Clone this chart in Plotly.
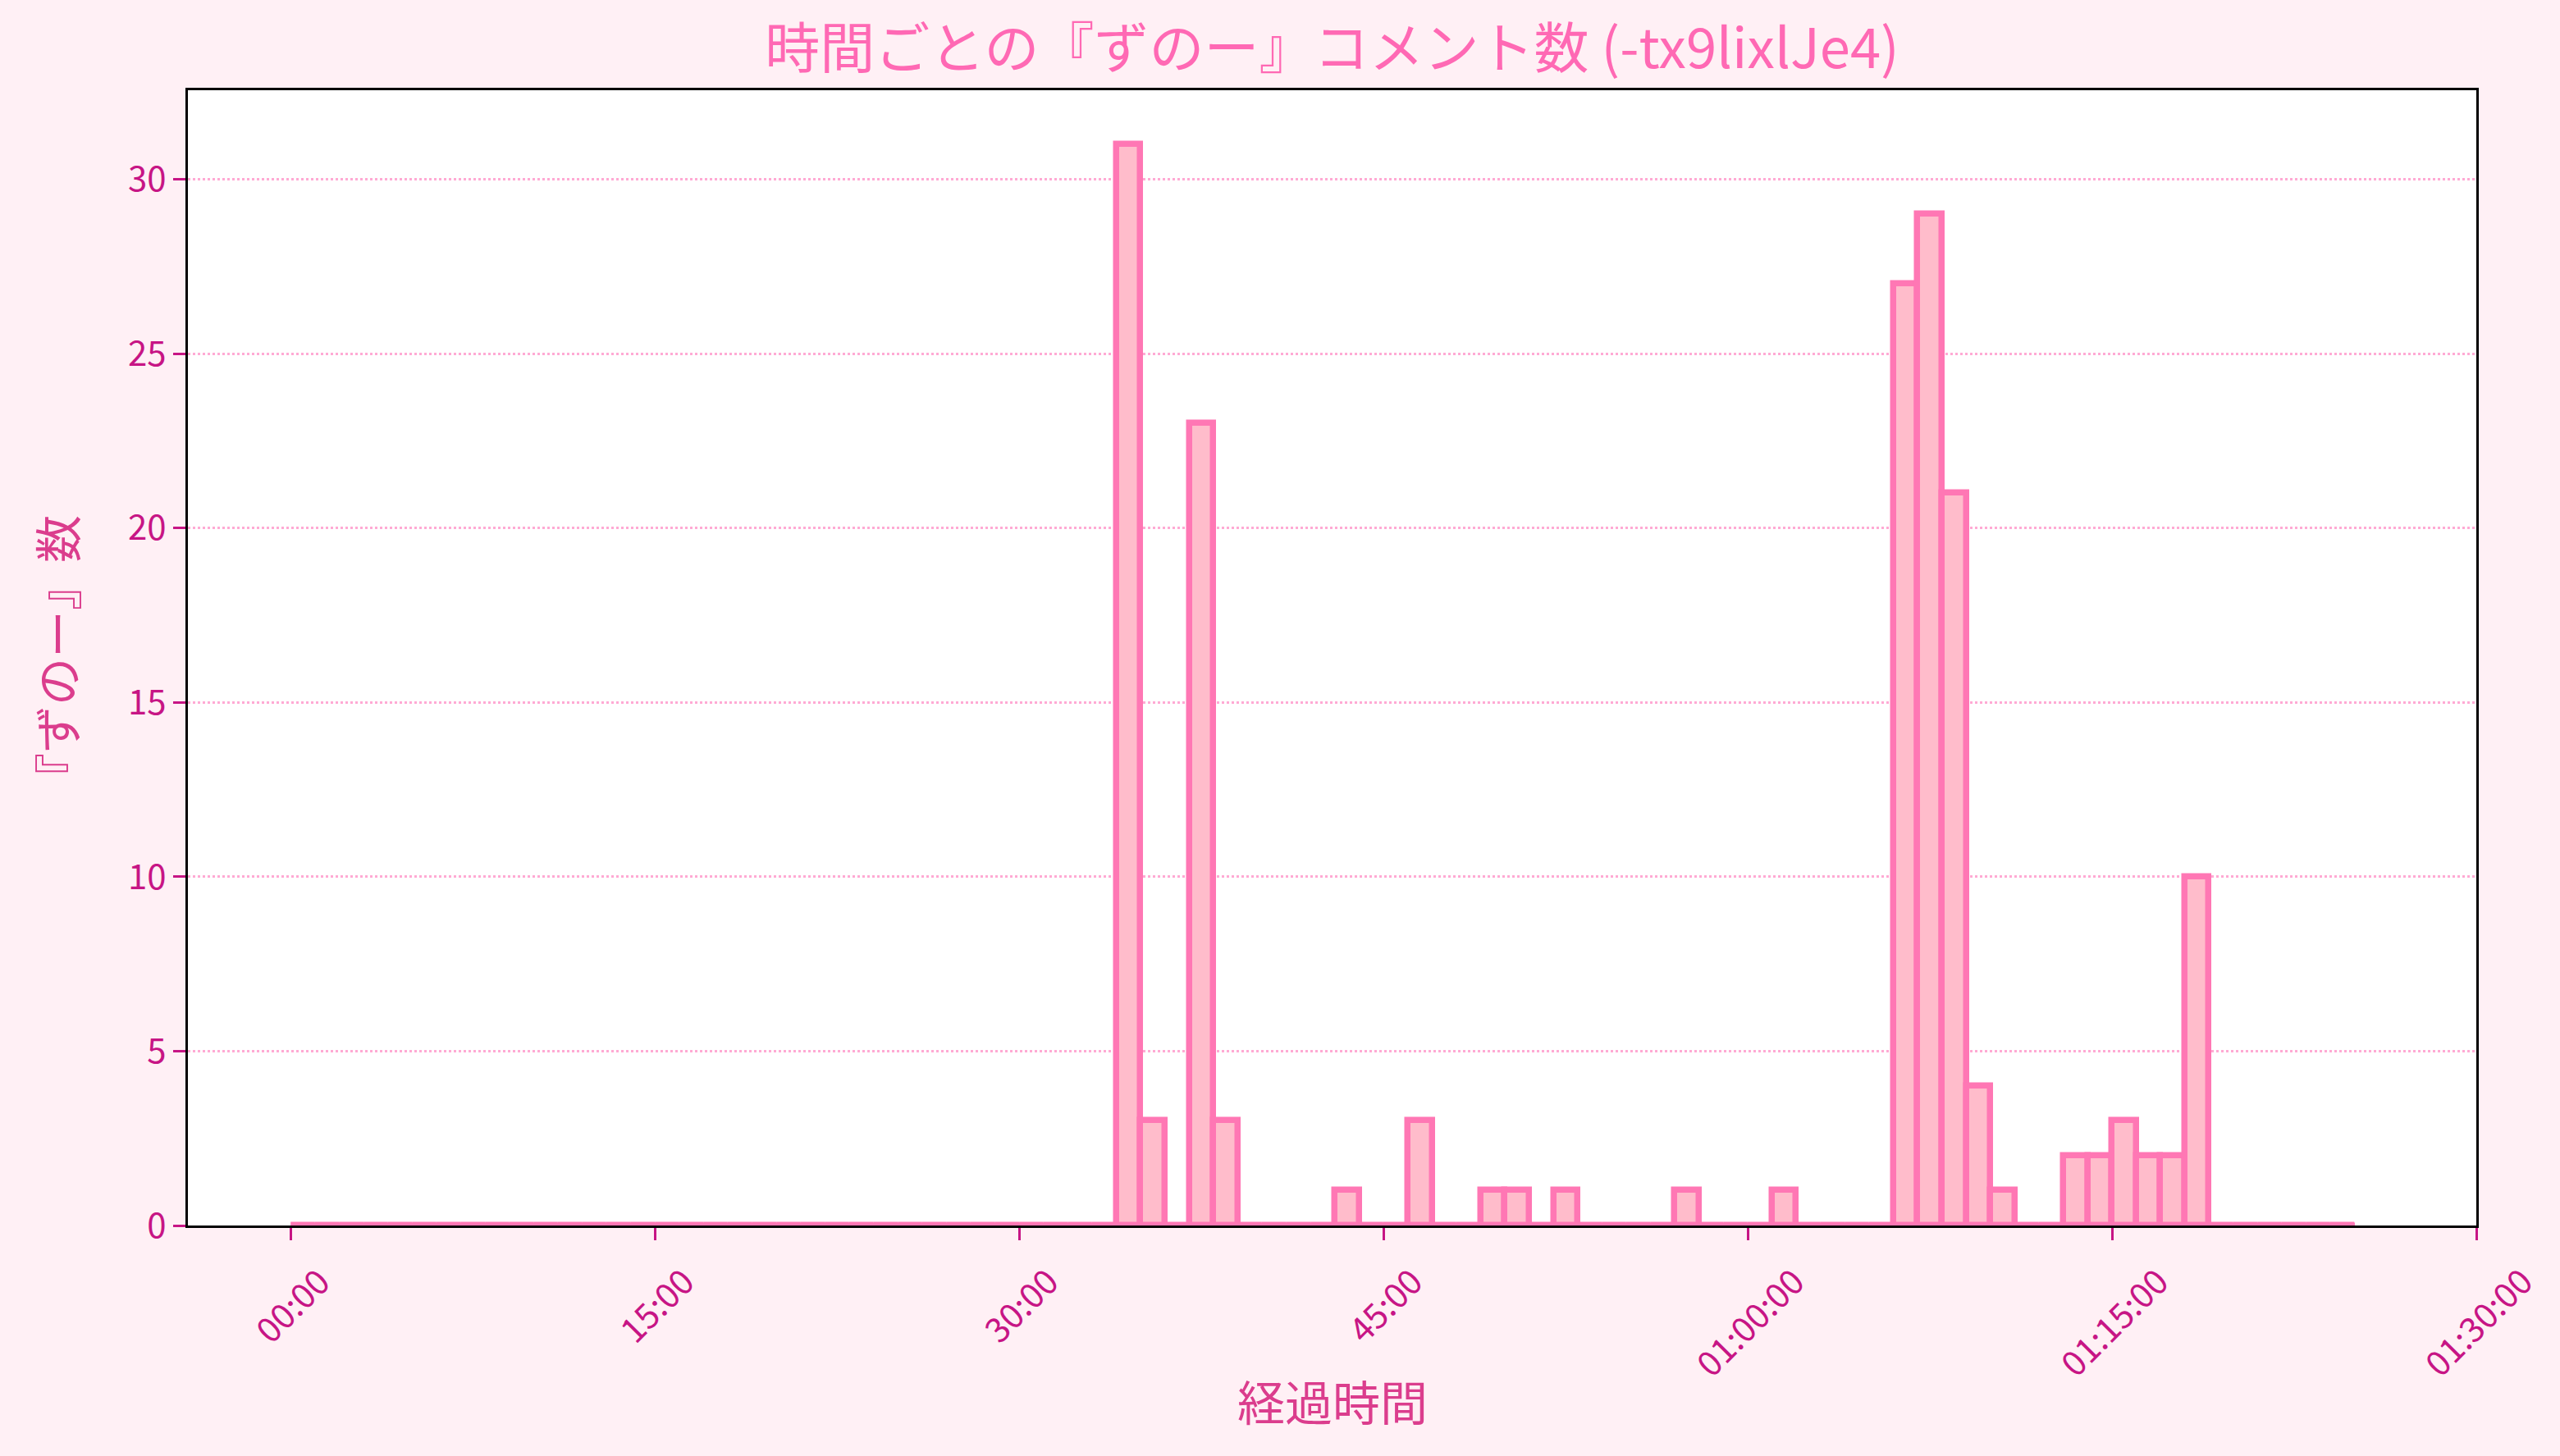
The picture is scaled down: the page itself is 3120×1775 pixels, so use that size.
import plotly.graph_objects as go

# 1-minute bins from 0 to 85 minutes
bin_minutes = list(range(0, 85))
counts = [0]*85
nonzero = {34: 31, 35: 3, 37: 23, 38: 3, 43: 1, 46: 3, 49: 1, 50: 1, 52: 1,
           57: 1, 61: 1, 66: 27, 67: 29, 68: 21, 69: 4, 70: 1,
           73: 2, 74: 2, 75: 3, 76: 2, 77: 2, 78: 10}
for k, v in nonzero.items():
    counts[k] = v

tick_seconds = [0, 900, 1800, 2700, 3600, 4500, 5400]
tick_labels = ["00:00", "15:00", "30:00", "45:00", "01:00:00", "01:15:00", "01:30:00"]
y_ticks = [0, 5, 10, 15, 20, 25, 30]

BIN = 60
x_centers = [m*BIN + BIN/2 for m in bin_minutes]
edges = [bin_minutes[0]*BIN, (bin_minutes[-1]+1)*BIN]

FONT = "Noto Sans CJK JP"
TICKC = "#c71585"
LABELC = "#db3d8d"
EDGE = "#ff77b4"
FILL = "#ffbccb"

fig = go.Figure()
fig.add_trace(go.Scatter(x=edges, y=[0, 0], mode="lines",
                         line=dict(color=EDGE, width=7), hoverinfo="skip", showlegend=False))
fig.add_trace(go.Bar(x=x_centers, y=counts, width=BIN,
                     marker=dict(color=FILL, line=dict(color=EDGE, width=7.5)),
                     showlegend=False))

for tv, tl in zip(tick_seconds, tick_labels):
    fig.add_annotation(x=tv, y=0, xref="x", yref="paper", text=tl, showarrow=False,
                       textangle=-45, xanchor="center", yanchor="top", yshift=-34,
                       font=dict(family=FONT, size=42, color=TICKC))

fig.update_layout(
    width=3120, height=1775,
    margin=dict(l=229, r=102, t=110, b=281),
    paper_bgcolor="#fff0f5", plot_bgcolor="white",
    bargap=0,
    title=dict(text="時間ごとの『ずのー』コメント数 (-tx9lixlJe4)", x=0.5, xref="paper",
               xanchor="center", y=1-60/1775, yanchor="middle",
               font=dict(family=FONT, size=67, color="#ff69b4")),
    font=dict(family=FONT),
)
fig.update_xaxes(range=[-255, 5400], tickvals=tick_seconds, ticktext=["" for _ in tick_labels],
                 ticks="outside", ticklen=15, tickwidth=3, tickcolor=TICKC,
                 showline=True, linecolor="black", linewidth=3, mirror=True,
                 showgrid=False, zeroline=False)
fig.update_yaxes(range=[0, 32.55], tickvals=y_ticks,
                 ticks="outside", ticklen=15, tickwidth=3, tickcolor=TICKC,
                 tickfont=dict(family=FONT, size=42, color=TICKC),
                 showline=True, linecolor="black", linewidth=3, mirror=True,
                 showgrid=True, gridcolor="#ffaad4", griddash="dot", gridwidth=3,
                 zeroline=False,
                 title=dict(text="『ずのー』数", standoff=44,
                            font=dict(family=FONT, size=58, color=LABELC)))
fig.add_annotation(x=0.5, y=-(1707-1494)/(1494-110), xref="paper", yref="paper", text="経過時間",
                   showarrow=False, xanchor="center", yanchor="middle",
                   font=dict(family=FONT, size=58, color=LABELC))
fig.write_html("out.html")
